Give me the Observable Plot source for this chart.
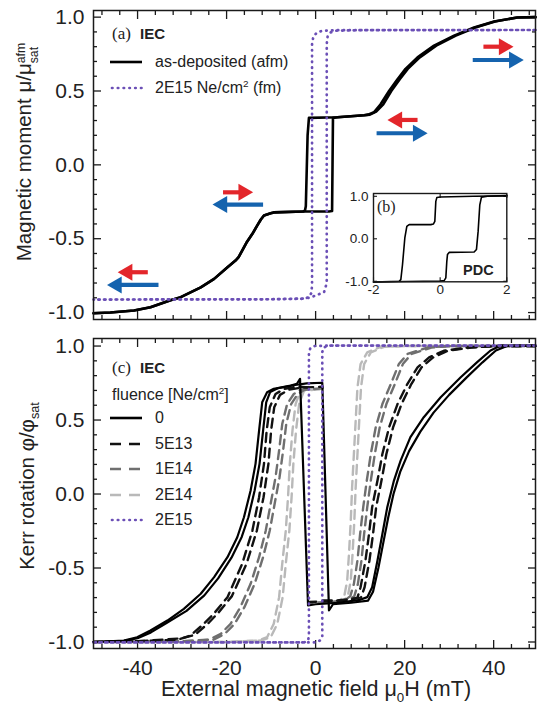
<!DOCTYPE html>
<html>
<head>
<meta charset="utf-8">
<script src="https://cdn.jsdelivr.net/npm/d3@7"></script>
<script src="https://cdn.jsdelivr.net/npm/@observablehq/plot@0.6"></script>
<style>
  html, body { margin: 0; padding: 0; background: #fff; }
  #wrap { position: relative; width: 537px; height: 705px; overflow: hidden; font-family: "Liberation Sans", Arial, Helvetica, sans-serif; color: #222; }
  .t { position: absolute; white-space: nowrap; line-height: 1; transform: translateY(-50%); font-size: 16px; }
  .serif { font-family: "Liberation Serif", "Times New Roman", serif; }
  .bold { font-weight: bold; }
  .rot { position: absolute; white-space: nowrap; line-height: 1; transform: translate(-50%, -50%) rotate(-90deg); font-size: 20.5px; }
  .xt { position: absolute; white-space: nowrap; line-height: 1; transform: translate(-50%, -50%); font-size: 21.5px; }
  sub, sup { font-size: 0.62em; line-height: 0; }
  .ss { display: inline-block; vertical-align: -0.55em; font-size: 0.6em; line-height: 1.05; text-align: left; }
  .smp { position: absolute; }
</style>
</head>
<body>
<div id="wrap"></div>
<script>
// ---------- ticks ----------
const xMajorTicks = [-40, -20, 0, 20, 40];
const xTickLabels = ["-40", "-20", "0", "20", "40"];
const xMinorTicks = [-48, -44, -36, -32, -28, -24, -16, -12, -8, -4, 4, 8, 12, 16, 24, 28, 32, 36, 44, 48];
const yMajorTicks = [-1, -0.5, 0, 0.5, 1];
const yTickLabels = ["-1.0", "-0.5", "0.0", "0.5", "1.0"];
const yMinorTicks = [-0.9, -0.8, -0.7, -0.6, -0.4, -0.3, -0.2, -0.1, 0.1, 0.2, 0.3, 0.4, 0.6, 0.7, 0.8, 0.9];
const insetXTicks = [-2, 0, 2];
const insetXLabels = ["-2", "0", "2"];
const insetYTicks = [-1, 0, 1];
const insetYLabels = ["-1.0", "0.0", "1.0"];

// ---------- panel (a): magnetic moment ----------
const afmDown = [[49.4,1.0],[45.3,0.998],[40.1,0.97],[35.6,0.93],[31.1,0.875],[26.6,0.807],[22.9,0.728],[20.2,0.65],[18.4,0.58],[16.5,0.5],[14.6,0.41],[13.1,0.356],[11.8,0.34],[10.9,0.336],[4.9,0.322],[-1.5,0.318],[-1.8,0.2],[-2.2,-0.28],[-2.4,-0.31],[-2.8,-0.316],[-9.4,-0.322],[-10.1,-0.328],[-11.6,-0.343],[-12.3,-0.37],[-13.1,-0.41],[-14.2,-0.467],[-15.4,-0.52],[-16.5,-0.58],[-17.3,-0.625],[-18.0,-0.648],[-19.8,-0.693],[-22.8,-0.772],[-25.8,-0.829],[-30.3,-0.896],[-32.6,-0.916],[-37.1,-0.964],[-40.8,-0.986],[-46.1,-1.0],[-49.9,-1.005]];
const afmUp = [[-49.9,-1.005],[-46.1,-1.0],[-40.8,-0.986],[-37.1,-0.964],[-32.6,-0.916],[-30.3,-0.896],[-25.8,-0.829],[-22.8,-0.772],[-19.8,-0.693],[-18.0,-0.648],[-17.3,-0.625],[-16.5,-0.58],[-15.4,-0.52],[-14.2,-0.467],[-13.1,-0.41],[-12.3,-0.37],[-11.6,-0.343],[-10.1,-0.328],[-9.4,-0.322],[-2.8,-0.316],[3.0,-0.316],[3.7,-0.313],[3.8,0.0],[3.9,0.318],[4.9,0.322],[10.9,0.336],[12.2,0.34],[13.6,0.36],[15.2,0.41],[17.0,0.5],[18.9,0.58],[20.7,0.65],[23.4,0.728],[27.1,0.807],[31.5,0.875],[35.9,0.93],[40.3,0.97],[45.3,0.998],[49.4,1.0]];
const fmDown = [[49.4,0.913],[5,0.912],[1.5,0.908],[0.3,0.895],[-0.5,0.87],[-0.8,0.82],[-0.8,-0.82],[-1.0,-0.87],[-1.6,-0.897],[-2.8,-0.907],[-10,-0.91],[-49.9,-0.912]];
const fmUp = [[-49.9,-0.912],[-10,-0.91],[-2.2,-0.905],[-1.1,-0.897],[0.4,-0.88],[1.9,-0.862],[2.5,-0.8],[2.5,0.82],[2.7,0.87],[3.4,0.897],[4.6,0.908],[10,0.912],[49.4,0.913]];

// arrows (field sweep direction, panel a)
const arrowFrom  = [37.7, 35.3, 22.9, 13.7, -20.8, -11.8, -37.7, -35.3];
const arrowTo    = [44.4, 46.7, 16.2, 25.1, -14.1, -23.1, -44.4, -46.8];
const arrowY     = [0.80, 0.71, 0.304, 0.214, -0.186, -0.269, -0.727, -0.813];
const arrowColor = ["red", "blue", "red", "blue", "red", "blue", "red", "blue"];

// ---------- inset (b): PDC ----------
const pdcDown = [[2,1.01],[1,1.0],[0,0.985],[-0.1,0.97],[-0.13,0.88],[-0.16,0.41],[-0.2,0.35],[-0.28,0.333],[-0.93,0.333],[-1.0,0.29],[-1.06,0.02],[-1.13,-0.61],[-1.18,-0.96],[-1.23,-1.0],[-2,-1.015]];
const pdcUp = [[-2,-1.015],[-1,-1.005],[0,-0.995],[0.12,-0.985],[0.17,-0.92],[0.2,-0.53],[0.22,-0.37],[0.27,-0.32],[1.02,-0.31],[1.09,-0.25],[1.14,0.18],[1.19,0.8],[1.24,0.98],[1.42,1.0],[2,1.02]];

// ---------- panel (c): Kerr rotation ----------
const kerr0Down = [[49.4,1.003],[41.6,1.003],[39.3,0.97],[36.3,0.891],[32.6,0.789],[28.1,0.654],[24.3,0.519],[21.3,0.384],[19.1,0.226],[17.6,0.091],[16.1,-0.089],[15.0,-0.27],[13.9,-0.449],[12.7,-0.63],[11.6,-0.697],[10,-0.715],[5,-0.735],[0,-0.745],[-1.7,-0.753],[-3.5,0.778],[-4.2,0.745],[-5.6,0.733],[-9.4,0.711],[-10.9,0.688],[-12.0,0.62],[-12.7,0.429],[-13.5,0.204],[-14.6,0.024],[-16.1,-0.157],[-17.6,-0.292],[-19.8,-0.427],[-22.8,-0.562],[-25.8,-0.674],[-29.6,-0.776],[-33.3,-0.855],[-37.1,-0.922],[-40.1,-0.968],[-43.1,-0.99],[-49.9,-1.0]];
const kerr0Up = [[-49.9,-1.0],[-43,-0.993],[-40,-0.975],[-37,-0.935],[-33.5,-0.872],[-29.0,-0.79],[-25.0,-0.685],[-21.9,-0.57],[-18.9,-0.43],[-16.6,-0.29],[-15.1,-0.157],[-13.7,0.024],[-12.6,0.204],[-11.8,0.429],[-11.1,0.62],[-10.2,0.69],[-8.5,0.715],[-5,0.735],[-2,0.748],[1.5,0.752],[3.0,-0.787],[3.9,-0.745],[8,-0.735],[11.8,-0.72],[12.9,-0.66],[14.1,-0.5],[15.2,-0.33],[16.3,-0.16],[17.5,0.0],[19.0,0.15],[21,0.29],[23.5,0.42],[26.5,0.55],[30,0.67],[34,0.79],[37.5,0.89],[40.5,0.97],[43,1.0],[49.4,1.003]];
const kerr5e13Down = [[49.4,1.0],[40.1,1.0],[34.1,0.99],[28.8,0.968],[25.5,0.923],[22.9,0.856],[20.6,0.743],[18.4,0.608],[16.5,0.45],[15.0,0.27],[13.9,0.091],[12.7,-0.089],[12.0,-0.27],[11.2,-0.449],[10.1,-0.63],[9.4,-0.70],[8,-0.715],[3,-0.725],[-1.6,-0.73],[-1.6,null],[-1.6,0.72],[-4.1,0.726],[-7.1,0.71],[-9.0,0.676],[-10.3,0.586],[-11.0,0.429],[-11.6,0.204],[-12.7,-0.022],[-14.2,-0.247],[-16.5,-0.472],[-19.8,-0.697],[-22.9,-0.81],[-25.1,-0.877],[-28.1,-0.956],[-31,-0.985],[-40,-0.995],[-49.9,-1.0]];
const kerr5e13Up = [[-49.9,-1.0],[-40,-0.995],[-30,-0.975],[-27.0,-0.95],[-24.0,-0.87],[-21.8,-0.80],[-18.8,-0.69],[-15.5,-0.47],[-13.2,-0.247],[-11.7,-0.022],[-10.6,0.204],[-10.0,0.429],[-9.3,0.586],[-8.0,0.67],[-6,0.705],[-3,0.72],[1.6,0.725],[1.6,null],[1.6,-0.72],[5,-0.72],[10.2,-0.70],[11.0,-0.63],[12.1,-0.449],[12.9,-0.27],[13.6,-0.089],[14.8,0.091],[15.9,0.27],[17.4,0.45],[19.3,0.608],[21.5,0.743],[23.8,0.856],[26.4,0.923],[29.7,0.968],[35,0.99],[41,1.0],[49.4,1.0]];
const kerr1e14Down = [[49.4,1.0],[30,1.0],[25.1,0.99],[20.6,0.946],[18.7,0.878],[16.9,0.743],[15.0,0.608],[13.5,0.45],[12.4,0.27],[11.5,0.091],[10.7,-0.089],[10.0,-0.27],[9.4,-0.449],[8.6,-0.607],[7.8,-0.69],[6.5,-0.72],[3,-0.73],[-1.6,-0.735],[-1.6,null],[-1.6,0.715],[-3.4,0.704],[-4.9,0.676],[-6.4,0.608],[-7.5,0.473],[-8.2,0.294],[-9.0,0.114],[-10.1,-0.066],[-11.2,-0.247],[-12.7,-0.427],[-14.6,-0.607],[-16.9,-0.765],[-19.1,-0.877],[-21.3,-0.945],[-24,-0.985],[-30,-0.995],[-49.9,-1.0]];
const kerr1e14Up = [[-49.9,-1.0],[-30,-0.995],[-23,-0.985],[-20.4,-0.945],[-18.2,-0.877],[-16.0,-0.765],[-13.7,-0.607],[-11.8,-0.427],[-10.3,-0.247],[-9.2,-0.066],[-8.1,0.114],[-7.3,0.294],[-6.6,0.473],[-5.5,0.608],[-4.0,0.676],[-2.5,0.704],[1.6,0.715],[1.6,null],[1.6,-0.735],[4,-0.73],[7.4,-0.72],[8.7,-0.69],[9.5,-0.607],[10.3,-0.449],[10.9,-0.27],[11.6,-0.089],[12.4,0.091],[13.3,0.27],[14.4,0.45],[15.9,0.608],[17.8,0.743],[19.6,0.878],[21.5,0.946],[26,0.99],[31,1.0],[49.4,1.0]];
const kerr2e14Down = [[49.4,1.0],[20,1.0],[14.6,0.995],[11.6,0.957],[10.1,0.878],[9.4,0.72],[9.0,0.495],[8.6,0.27],[8.2,0.046],[7.9,-0.179],[7.5,-0.404],[7.1,-0.584],[6.4,-0.697],[5,-0.725],[2,-0.735],[-1.6,-0.74],[-1.6,null],[-1.6,0.71],[-3.4,0.699],[-4.5,0.608],[-5.2,0.429],[-5.8,0.204],[-6.2,-0.022],[-6.7,-0.247],[-7.5,-0.472],[-8.2,-0.697],[-9.4,-0.877],[-10.9,-0.968],[-13,-0.99],[-20,-1.0],[-49.9,-1.0]];
const kerr2e14Up = [[-49.9,-1.0],[-20,-1.0],[-12.2,-0.99],[-10.1,-0.968],[-8.6,-0.877],[-7.4,-0.697],[-6.7,-0.472],[-5.9,-0.247],[-5.4,-0.022],[-5.0,0.204],[-4.4,0.429],[-3.7,0.608],[-2.6,0.699],[1.6,0.71],[1.6,null],[1.6,-0.74],[4,-0.735],[5.8,-0.725],[7.2,-0.697],[7.9,-0.584],[8.3,-0.404],[8.7,-0.179],[9.0,0.046],[9.4,0.27],[9.8,0.495],[10.2,0.72],[10.9,0.878],[12.4,0.957],[15.4,0.995],[21,1.0],[49.4,1.0]];
const kerr2e15Down = [[49.4,1.003],[3,1.003],[-0.3,1.0],[-1.2,0.985],[-1.5,0.95],[-1.5,-0.96],[-1.7,-0.99],[-2.6,-1.003],[-49.9,-1.003]];
const kerr2e15Up = [[-49.9,-1.003],[0,-1.003],[1.0,-0.99],[1.5,-0.96],[1.5,0.96],[1.8,0.99],[3,1.003],[49.4,1.003]];

// ---------- styling ----------
const FONT = '"Liberation Sans", Arial, Helvetica, sans-serif';
const INK = "#1a1a1a";
const PURPLE = "#6b4fb6";
const GRAY_DARK = "#6f6f6f";
const GRAY_LIGHT = "#b9b9b9";
const ARROW_COLORS = {red: "#e3262b", blue: "#1563ae"};
const DOTS = "0.5 5.3";
const DASH = "9 6";

const rows = (pts, key) => pts.map(([x, y]) => ({x, y, key}));
const wrap = document.getElementById("wrap");
function place(el, left, top) {
  el.style.position = "absolute";
  el.style.left = left + "px";
  el.style.top = top + "px";
  wrap.appendChild(el);
}
function boxTicks(xMinor, xMajor, yMinor, yMajor, minorLen, majorLen, sw) {
  const o = {fill: "none", stroke: INK, strokeWidth: sw, label: null};
  const out = [];
  for (const a of ["bottom", "top"]) {
    if (xMinor.length) out.push(Plot.axisX(xMinor, {...o, anchor: a, tickSize: -minorLen}));
    out.push(Plot.axisX(xMajor, {...o, anchor: a, tickSize: -majorLen}));
  }
  for (const a of ["left", "right"]) {
    if (yMinor.length) out.push(Plot.axisY(yMinor, {...o, anchor: a, tickSize: -minorLen}));
    out.push(Plot.axisY(yMajor, {...o, anchor: a, tickSize: -majorLen}));
  }
  return out;
}
const yLabelAxis = () => Plot.axisY(yMajorTicks, {anchor: "left", tickSize: 0, tickPadding: 9, label: null, fontSize: 21, fill: "#222", tickFormat: d => yTickLabels[yMajorTicks.indexOf(d)]});

const arrowRows = arrowFrom.map((x1, i) => ({x1, x2: arrowTo[i], y: arrowY[i], c: ARROW_COLORS[arrowColor[i]], dir: arrowTo[i] > x1 ? 1 : -1}));

// ---------- top plot ----------
const topPlot = Plot.plot({
  width: 537, height: 320,
  marginLeft: 93, marginRight: 2, marginTop: 10, marginBottom: 1,
  x: {domain: [-49.9, 49.4]},
  y: {domain: [-1.047, 1.045]},
  style: {fontFamily: FONT, background: "transparent", color: "#222", overflow: "visible"},
  marks: [
    ...boxTicks(xMinorTicks, xMajorTicks, yMinorTicks, yMajorTicks, 4, 8, 1.3),
    Plot.line(rows(afmDown, "d").concat(rows(afmUp, "u")), {x: "x", y: "y", z: "key", stroke: "#000", strokeWidth: 2.6}),
    Plot.line(rows(fmDown, "d").concat(rows(fmUp, "u")), {x: "x", y: "y", z: "key", stroke: PURPLE, strokeWidth: 2.7, strokeDasharray: DOTS, strokeLinecap: "round"}),
    Plot.arrow(arrowRows, {x1: "x1", x2: "x2", y1: "y", y2: "y", stroke: "c", strokeWidth: 4.2, headLength: 0, insetEnd: 9, strokeLinecap: "butt"}),
    Plot.dot(arrowRows.filter(d => d.dir > 0), {x: "x2", y: "y", symbol: "triangle", r: 6.3, fill: "c", stroke: null, rotate: 90, dx: -9.5}),
    Plot.dot(arrowRows.filter(d => d.dir < 0), {x: "x2", y: "y", symbol: "triangle", r: 6.3, fill: "c", stroke: null, rotate: -90, dx: 9.5}),
    Plot.frame({stroke: INK, strokeWidth: 1.5}),
    yLabelAxis()
  ]
});
place(topPlot, 0, 0);

// ---------- inset ----------
const insetPlot = Plot.plot({
  width: 176, height: 116,
  marginLeft: 36, marginRight: 6.7, marginTop: 5, marginBottom: 22.7,
  x: {domain: [-2, 2]},
  y: {domain: [-1.012, 1.066]},
  style: {fontFamily: FONT, background: "#fff", color: "#222", overflow: "visible"},
  marks: [
    ...boxTicks([], insetXTicks, [], insetYTicks, 0, 4, 1.1),
    Plot.line(rows(pdcDown, "d").concat(rows(pdcUp, "u")), {x: "x", y: "y", z: "key", stroke: "#000", strokeWidth: 1.6}),
    Plot.frame({stroke: INK, strokeWidth: 1.4}),
    Plot.axisY(insetYTicks, {anchor: "left", tickSize: 0, tickPadding: 5, label: null, fontSize: 13.5, tickFormat: d => insetYLabels[insetYTicks.indexOf(d)]}),
    Plot.axisX(insetXTicks, {anchor: "bottom", tickSize: 0, tickPadding: 3, label: null, fontSize: 13.5, tickFormat: d => insetXLabels[insetXTicks.indexOf(d)]})
  ]
});
place(insetPlot, 336.7, 187.7);

// ---------- bottom plot ----------
const dashedLine = (down, up, color) => Plot.line(rows(down, "d").concat(rows(up, "u")), {x: "x", y: "y", z: "key", stroke: color, strokeWidth: 2.4, strokeDasharray: DASH});
const bottomPlot = Plot.plot({
  width: 537, height: 385,
  marginLeft: 93, marginRight: 2, marginTop: 18, marginBottom: 57,
  x: {domain: [-49.9, 49.4]},
  y: {domain: [-1.044, 1.051]},
  style: {fontFamily: FONT, background: "transparent", color: "#222", overflow: "visible"},
  marks: [
    ...boxTicks(xMinorTicks, xMajorTicks, yMinorTicks, yMajorTicks, 4, 8, 1.3),
    dashedLine(kerr2e14Down, kerr2e14Up, GRAY_LIGHT),
    dashedLine(kerr1e14Down, kerr1e14Up, GRAY_DARK),
    dashedLine(kerr5e13Down, kerr5e13Up, "#111"),
    Plot.line(rows(kerr0Down, "d").concat(rows(kerr0Up, "u")), {x: "x", y: "y", z: "key", stroke: "#000", strokeWidth: 2.2}),
    Plot.line(rows(kerr2e15Down, "d").concat(rows(kerr2e15Up, "u")), {x: "x", y: "y", z: "key", stroke: PURPLE, strokeWidth: 2.7, strokeDasharray: DOTS, strokeLinecap: "round"}),
    Plot.frame({stroke: INK, strokeWidth: 1.5}),
    yLabelAxis(),
    Plot.axisX(xMajorTicks, {anchor: "bottom", tickSize: 0, tickPadding: 12, label: null, fontSize: 21, fill: "#222", tickFormat: d => xTickLabels[xMajorTicks.indexOf(d)]})
  ]
});
place(bottomPlot, 0, 320);

// ---------- text overlays ----------
function addText(html, cls, left, top, extra) {
  const d = document.createElement("div");
  d.className = cls;
  d.innerHTML = html;
  d.style.left = left + "px";
  d.style.top = top + "px";
  if (extra) Object.assign(d.style, extra);
  wrap.appendChild(d);
  return d;
}
function sampleLine(kind, left, top) {
  const styles = {
    solid: {stroke: "#000", w: 2.6, dash: null, cap: "butt"},
    dotted: {stroke: PURPLE, w: 2.7, dash: "0.5 5.3", cap: "round"},
    dashBlack: {stroke: "#111", w: 2.6, dash: "11 8", cap: "butt"},
    dashDark: {stroke: GRAY_DARK, w: 2.6, dash: "11 8", cap: "butt"},
    dashLight: {stroke: GRAY_LIGHT, w: 2.6, dash: "11 8", cap: "butt"}
  };
  const s = styles[kind];
  const ns = "http://www.w3.org/2000/svg";
  const svg = document.createElementNS(ns, "svg");
  svg.setAttribute("width", 34); svg.setAttribute("height", 8);
  svg.setAttribute("class", "smp");
  svg.style.left = left + "px"; svg.style.top = (top - 4) + "px";
  const ln = document.createElementNS(ns, "line");
  ln.setAttribute("x1", kind === "dotted" ? 2 : 0); ln.setAttribute("x2", 32);
  ln.setAttribute("y1", 4); ln.setAttribute("y2", 4);
  ln.setAttribute("stroke", s.stroke); ln.setAttribute("stroke-width", s.w);
  ln.setAttribute("stroke-linecap", s.cap);
  if (s.dash) ln.setAttribute("stroke-dasharray", s.dash);
  svg.appendChild(ln);
  wrap.appendChild(svg);
}

// panel (a) legend
const topLegendLabels = ["as-deposited (afm)", "2E15 Ne/cm<sup>2</sup> (fm)"];
const topLegendKinds = ["solid", "dotted"];
const topLegendRowY = [62, 88];
addText("(a)", "t serif", 112, 33, {fontSize: "17px"});
addText("IEC", "t bold", 140, 33, {fontSize: "15px"});
topLegendLabels.forEach((lab, i) => {
  sampleLine(topLegendKinds[i], 110, topLegendRowY[i]);
  addText(lab, "t", 155, topLegendRowY[i]);
});

// inset labels
addText("(b)", "t serif", 377, 207, {fontSize: "16px"});
addText("PDC", "t bold", 463, 270, {fontSize: "14.5px"});

// panel (c) legend
const bottomLegendLabels = ["0", "5E13", "1E14", "2E14", "2E15"];
const bottomLegendKinds = ["solid", "dashBlack", "dashDark", "dashLight", "dotted"];
const bottomLegendRowY = [418, 443.5, 469, 494.5, 520];
addText("(c)", "t serif", 112, 367, {fontSize: "17px"});
addText("IEC", "t bold", 140, 367, {fontSize: "15px"});
addText("fluence [Ne/cm<sup>2</sup>]", "t", 112, 395);
bottomLegendLabels.forEach((lab, i) => {
  sampleLine(bottomLegendKinds[i], 110, bottomLegendRowY[i]);
  addText(lab, "t", 155, bottomLegendRowY[i]);
});

// axis titles
addText('Magnetic moment μ/μ<span class="ss">afm<br>sat</span>', "rot", 27, 152);
addText("Kerr rotation φ/φ<sub>sat</sub>", "rot", 27, 486);
addText("External magnetic field μ<sub>0</sub>H (mT)", "xt", 316, 690);
</script>
</body>
</html>
